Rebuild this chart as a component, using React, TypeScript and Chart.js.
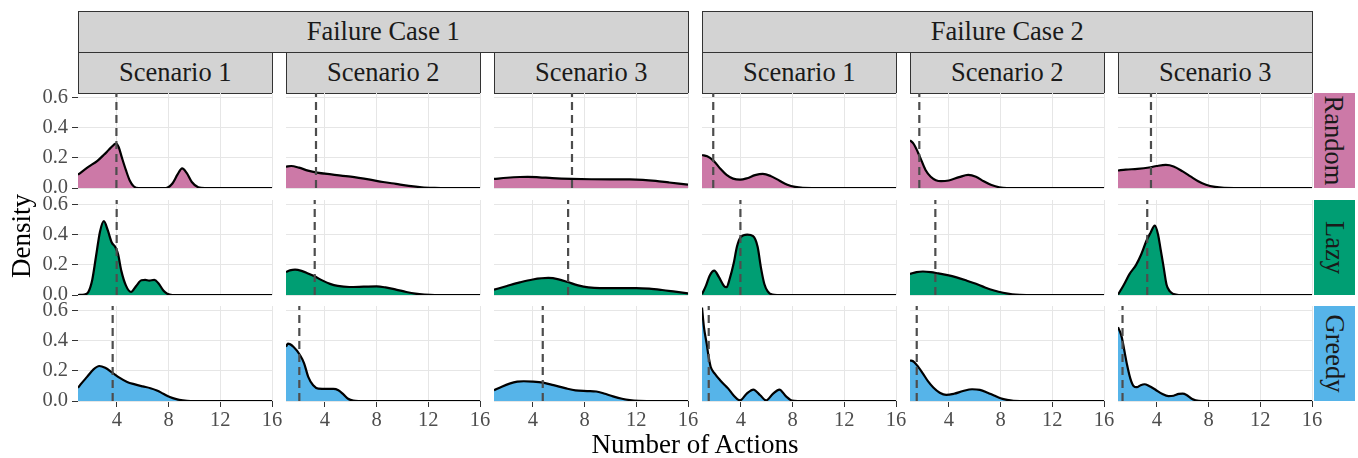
import React, { useEffect, useRef } from 'react';
import { Chart, registerables } from 'chart.js';

Chart.register(...registerables);

// ---------- labels ----------
const caseLabels = ['Failure Case 1', 'Failure Case 2'];
const scenarioLabels = ['Scenario 1', 'Scenario 2', 'Scenario 3'];
const rowLabels = ['Random', 'Lazy', 'Greedy'];
const rowColors = ['#CC79A7', '#009E73', '#56B4E9'];
const xTicks = [4, 8, 12, 16];
const yTicks = [0, 0.2, 0.4, 0.6];
const xTitle = 'Number of Actions';
const yTitle = 'Density';
const X_MIN = 1;
const X_MAX = 16;
const Y_MAX = 0.63;

// ---------- density curves: [number of actions, density] ----------
// Random
const randomFC1S1 = [[1,0.088],[1.8,0.14],[2.5,0.18],[3.0,0.22],[3.4,0.255],[3.75,0.285],[3.95,0.295],[4.15,0.27],[4.4,0.2],[4.7,0.12],[5.0,0.05],[5.3,0.012],[5.7,0],[7.8,0],[8.3,0.03],[8.7,0.09],[9.05,0.13],[9.4,0.1],[9.8,0.04],[10.3,0.005],[10.8,0],[16,0]];
const randomFC1S2 = [[1,0.142],[1.4,0.146],[2,0.135],[2.7,0.115],[3.4,0.102],[4.5,0.09],[6,0.075],[7.5,0.055],[8.5,0.04],[9.5,0.027],[10.5,0.014],[11.5,0.005],[12.5,0.001],[13,0],[16,0]];
const randomFC1S3 = [[1,0.06],[2,0.068],[3,0.073],[3.6,0.074],[4.5,0.071],[5.5,0.066],[7,0.061],[8.5,0.058],[10,0.057],[11.5,0.057],[12.5,0.054],[13.5,0.047],[14.5,0.037],[15.3,0.029],[16,0.022]];
const randomFC2S1 = [[1,0.219],[1.4,0.21],[1.9,0.18],[2.4,0.13],[2.9,0.087],[3.4,0.062],[3.95,0.055],[4.5,0.065],[5.1,0.085],[5.7,0.094],[6.3,0.08],[7,0.048],[7.6,0.022],[8.2,0.007],[8.8,0.001],[9.5,0],[16,0]];
const randomFC2S2 = [[1,0.317],[1.3,0.29],[1.75,0.21],[2.2,0.12],[2.6,0.075],[3.0,0.052],[3.4,0.045],[4,0.05],[4.8,0.072],[5.5,0.087],[6.1,0.075],[6.7,0.045],[7.3,0.02],[7.9,0.005],[8.5,0],[16,0]];
const randomFC2S3 = [[1,0.116],[1.6,0.122],[2.5,0.127],[3.4,0.136],[4,0.146],[4.7,0.153],[5.3,0.143],[6,0.11],[6.6,0.077],[7.2,0.045],[7.8,0.022],[8.5,0.007],[9.2,0.001],[10,0],[16,0]];
// Lazy
const lazyFC1S1 = [[1,0],[1.5,0.003],[1.8,0.02],[2.1,0.1],[2.4,0.26],[2.7,0.42],[3.0,0.49],[3.3,0.43],[3.6,0.35],[3.9,0.315],[4.1,0.27],[4.35,0.16],[4.7,0.064],[5.1,0.02],[5.5,0.06],[5.9,0.098],[6.2,0.1],[6.5,0.095],[6.9,0.1],[7.2,0.08],[7.6,0.03],[7.9,0.008],[8.3,0],[16,0]];
const lazyFC1S2 = [[1,0.152],[1.3,0.163],[1.7,0.168],[2.2,0.16],[2.7,0.143],[3.2,0.124],[3.8,0.097],[4.4,0.074],[5,0.06],[5.9,0.053],[7,0.055],[8,0.057],[8.7,0.05],[9.5,0.036],[10.3,0.02],[11,0.009],[11.7,0.003],[12.5,0],[16,0]];
const lazyFC1S3 = [[1,0.035],[2,0.06],[3,0.084],[4,0.103],[5.2,0.113],[6,0.104],[6.7,0.086],[7.5,0.064],[8.3,0.05],[9.2,0.045],[10.5,0.046],[12,0.046],[13,0.042],[14,0.033],[15,0.022],[16,0.011]];
const lazyFC2S1 = [[1,0.005],[1.3,0.06],[1.6,0.13],[1.95,0.162],[2.3,0.12],[2.7,0.06],[2.9,0.052],[3.15,0.11],[3.45,0.21],[3.7,0.32],[4.0,0.385],[4.5,0.4],[4.95,0.39],[5.3,0.32],[5.56,0.18],[5.82,0.073],[6.08,0.024],[6.45,0.002],[6.8,0],[16,0]];
const lazyFC2S2 = [[1,0.14],[1.5,0.152],[2,0.156],[2.6,0.152],[3.2,0.143],[3.9,0.132],[4.6,0.117],[5.4,0.095],[6.1,0.074],[6.8,0.05],[7.5,0.03],[8.2,0.015],[8.9,0.005],[9.5,0.001],[10,0],[16,0]];
const lazyFC2S3 = [[1,0.003],[1.4,0.06],[1.9,0.14],[2.4,0.2],[2.8,0.27],[3.2,0.36],[3.5,0.41],[3.85,0.46],[4.1,0.4],[4.3,0.3],[4.5,0.2],[4.75,0.07],[5.0,0.025],[5.3,0.006],[5.7,0],[16,0]];
// Greedy
const greedyFC1S1 = [[1,0.088],[1.3,0.12],[1.7,0.16],[2.2,0.21],[2.65,0.232],[3.1,0.22],[3.7,0.185],[4.2,0.155],[4.8,0.126],[5.4,0.11],[6,0.097],[6.6,0.085],[7.1,0.07],[7.6,0.048],[8.1,0.026],[8.6,0.012],[9.1,0.004],[9.7,0],[16,0]];
const greedyFC1S2 = [[1,0.36],[1.15,0.38],[1.57,0.36],[2.08,0.305],[2.4,0.25],[2.72,0.16],[3.1,0.104],[3.5,0.082],[4.2,0.08],[4.66,0.08],[5.05,0.071],[5.44,0.044],[5.8,0.015],[6.2,0.002],[6.6,0],[16,0]];
const greedyFC1S3 = [[1,0.071],[1.6,0.095],[2.2,0.115],[2.8,0.128],[3.3,0.131],[4,0.129],[4.8,0.122],[5.6,0.105],[6.5,0.085],[7.3,0.07],[8.2,0.066],[8.9,0.063],[9.5,0.05],[10.2,0.031],[10.9,0.015],[11.5,0.006],[12.2,0.001],[12.8,0],[16,0]];
const greedyFC2S1 = [[1,0.62],[1.15,0.49],[1.36,0.38],[1.52,0.29],[1.67,0.227],[2.0,0.18],[2.4,0.138],[2.77,0.104],[3.03,0.082],[3.43,0.038],[3.94,0.004],[4.46,0.049],[4.97,0.076],[5.5,0.038],[5.95,0.004],[6.5,0.049],[6.98,0.076],[7.5,0.031],[7.95,0.003],[8.4,0],[16,0]];
const greedyFC2S2 = [[1,0.27],[1.3,0.26],[1.65,0.225],[2,0.182],[2.4,0.13],[2.8,0.09],[3.3,0.055],[3.8,0.04],[4.4,0.048],[5.1,0.066],[5.8,0.078],[6.4,0.074],[7,0.055],[7.5,0.036],[8,0.018],[8.5,0.007],[9,0.001],[9.5,0],[16,0]];
const greedyFC2S3 = [[1,0.489],[1.15,0.46],[1.3,0.42],[1.5,0.33],[1.7,0.24],[1.95,0.15],[2.2,0.1],[2.45,0.092],[2.75,0.105],[3.05,0.111],[3.4,0.1],[3.9,0.075],[4.4,0.048],[4.9,0.032],[5.3,0.035],[5.7,0.047],[6.0,0.049],[6.3,0.04],[6.7,0.015],[7,0.005],[7.5,0],[16,0]];

// mean number of actions (dashed lines), per column: FC1 S1..S3, FC2 S1..S3
const randomMeans = [3.97, 3.32, 7.03, 1.87, 1.72, 3.55];
const lazyMeans = [3.99, 3.22, 6.73, 3.97, 2.96, 3.26];
const greedyMeans = [3.68, 2.03, 4.77, 1.52, 1.52, 1.35];

const curves = [
  [randomFC1S1, randomFC1S2, randomFC1S3, randomFC2S1, randomFC2S2, randomFC2S3],
  [lazyFC1S1, lazyFC1S2, lazyFC1S3, lazyFC2S1, lazyFC2S2, lazyFC2S3],
  [greedyFC1S1, greedyFC1S2, greedyFC1S3, greedyFC2S1, greedyFC2S2, greedyFC2S3],
];
const means = [randomMeans, lazyMeans, greedyMeans];

// ---------- layout ----------
const FONT = "'Liberation Serif', 'DejaVu Serif', serif";
const PX0 = 78;
const PITCH = 208;
const PW = 194;
const PH = 95;
const rowTops = [93.3, 199.5, 305.7];
const GRID = '#E6E6E6';
const TICK = '#333333';
const LABEL = '#4D4D4D';

function Panel({ r, c }: { r: number; c: number }) {
  const ref = useRef<HTMLCanvasElement | null>(null);
  const isLeft = c === 0;
  const isBottom = r === 2;
  const padL = isLeft ? 78 : 0;
  const padT = 18;
  const padR = 14;
  const padB = isBottom ? 40 : 18;
  const w = padL + PW + padR;
  const h = padT + PH + padB;

  useEffect(() => {
    const pts = curves[r][c];
    const m = means[r][c];
    const chart = new Chart(ref.current as HTMLCanvasElement, {
      type: 'line',
      data: {
        datasets: [
          {
            data: [{ x: m, y: 0 }, { x: m, y: Y_MAX }],
            borderColor: '#4D4D4D',
            borderWidth: 2.2,
            borderDash: [8, 5],
            pointRadius: 0,
            fill: false,
          },
          {
            data: pts.map(([x, y]) => ({ x, y })),
            borderColor: '#000000',
            borderWidth: 2.2,
            backgroundColor: rowColors[r],
            fill: 'origin',
            pointRadius: 0,
            cubicInterpolationMode: 'monotone',
          },
        ],
      },
      options: {
        animation: false,
        responsive: false,
        events: [],
        layout: { padding: { left: 0, top: padT, right: padR, bottom: isBottom ? 0 : padB } },
        plugins: { legend: { display: false }, tooltip: { enabled: false } },
        scales: {
          x: {
            type: 'linear',
            min: X_MIN,
            max: X_MAX,
            afterBuildTicks: (s: any) => { s.ticks = xTicks.map((v) => ({ value: v })); },
            afterFit: (s: any) => { s.height = isBottom ? 40 : 0; },
            border: { display: false },
            grid: { color: GRID, tickColor: TICK, tickLength: 6, drawTicks: isBottom, lineWidth: 1 },
            ticks: {
              display: isBottom,
              padding: 1,
              color: LABEL,
              font: { family: FONT, size: 20.5 },
              maxRotation: 0,
              autoSkip: false,
              callback: (v: any) => String(v),
            },
          },
          y: {
            type: 'linear',
            min: 0,
            max: Y_MAX,
            afterBuildTicks: (s: any) => { s.ticks = yTicks.map((v) => ({ value: v })); },
            afterFit: (s: any) => { s.width = isLeft ? 78 : 0; },
            border: { display: false },
            grid: { color: GRID, tickColor: TICK, tickLength: 6, drawTicks: isLeft, lineWidth: 1 },
            ticks: {
              display: isLeft,
              padding: 4,
              color: LABEL,
              font: { family: FONT, size: 20.5 },
              autoSkip: false,
              callback: (v: any) => Number(v).toFixed(1),
            },
          },
        },
      } as any,
    } as any);
    return () => chart.destroy();
  }, []);

  return (
    <canvas
      ref={ref}
      width={w}
      height={h}
      style={{
        position: 'absolute',
        left: PX0 + c * PITCH - padL,
        top: rowTops[r] - padT,
        width: w,
        height: h,
      }}
    />
  );
}

const stripBase: React.CSSProperties = {
  position: 'absolute',
  boxSizing: 'border-box',
  background: '#D3D3D3',
  border: '1.5px solid #333333',
  display: 'flex',
  alignItems: 'center',
  justifyContent: 'center',
  fontFamily: FONT,
  fontSize: 26.5,
  color: '#1A1A1A',
  whiteSpace: 'nowrap',
};

export default function App() {
  const panels: JSX.Element[] = [];
  for (let r = 0; r < 3; r++) {
    for (let c = 0; c < 6; c++) {
      panels.push(<Panel key={`${r}-${c}`} r={r} c={c} />);
    }
  }
  return (
    <div style={{ position: 'fixed', left: 0, top: 0, width: 1358, height: 458, background: '#FFFFFF', overflow: 'hidden' }}>
      {caseLabels.map((t, i) => (
        <div key={t} style={{ ...stripBase, left: PX0 + i * 3 * PITCH, top: 11, width: 3 * PITCH - 14 + 0.5, height: 41.5 }}>
          {t}
        </div>
      ))}
      {[0, 1, 2, 3, 4, 5].map((c) => (
        <div key={'s' + c} style={{ ...stripBase, left: PX0 + c * PITCH, top: 52, width: PW + 0.5, height: 41.5 }}>
          {scenarioLabels[c % 3]}
        </div>
      ))}
      {rowLabels.map((t, r) => (
        <div
          key={t}
          style={{
            position: 'absolute',
            left: 1313.5,
            top: rowTops[r],
            width: 41.5,
            height: PH,
            background: rowColors[r],
            display: 'flex',
            alignItems: 'center',
            justifyContent: 'center',
          }}
        >
          <div style={{ transform: 'rotate(90deg)', fontFamily: FONT, fontSize: 26.5, color: '#1A1A1A', whiteSpace: 'nowrap' }}>{t}</div>
        </div>
      ))}
      {panels}
      <div
        style={{
          position: 'absolute',
          left: PX0,
          width: 6 * PITCH - 14,
          top: 427.5,
          height: 32,
          lineHeight: '32px',
          textAlign: 'center',
          fontFamily: FONT,
          fontSize: 27,
          color: '#000000',
        }}
      >
        {xTitle}
      </div>
      <div
        style={{
          position: 'absolute',
          left: 21,
          top: 236,
          transform: 'translate(-50%, -50%) rotate(-90deg)',
          fontFamily: FONT,
          fontSize: 27,
          color: '#000000',
          whiteSpace: 'nowrap',
          lineHeight: '32px',
        }}
      >
        {yTitle}
      </div>
    </div>
  );
}
